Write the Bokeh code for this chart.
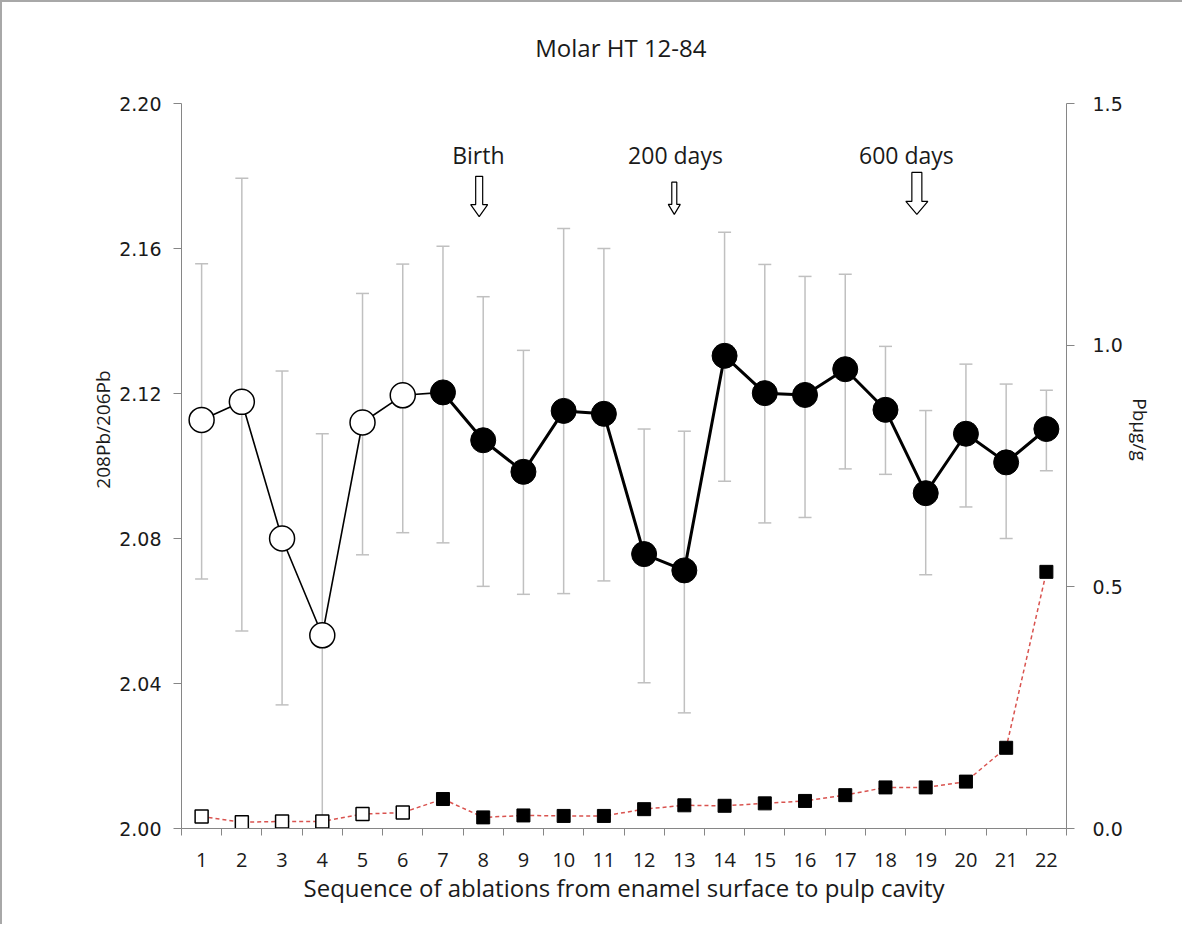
from bokeh.plotting import figure
from bokeh.models import Range1d, LinearAxis, FixedTicker, NumeralTickFormatter, Title
from bokeh.core.properties import value
from bokeh.embed import file_html
from bokeh.resources import INLINE

# ---------------- data ----------------
ablation = list(range(1, 23))
ratio = [2.1127, 2.1177, 2.0800, 2.0533, 2.1120, 2.1195, 2.1203, 2.1071, 2.0984, 2.1152, 2.1144,
         2.0757, 2.0712, 2.1304, 2.1201, 2.1196, 2.1267, 2.1155, 2.0925, 2.1089, 2.1010, 2.1102]
ratio_hi = [2.1558, 2.1794, 2.1262, 2.1089, 2.1476, 2.1557, 2.1606, 2.1467, 2.1319, 2.1655, 2.1600,
            2.1102, 2.1096, 2.1645, 2.1556, 2.1523, 2.1529, 2.1330, 2.1153, 2.1281, 2.1226, 2.1209]
ratio_lo = [2.0688, 2.0545, 2.0341, 1.9977, 2.0755, 2.0816, 2.0788, 2.0668, 2.0646, 2.0648, 2.0683,
            2.0402, 2.0319, 2.0958, 2.0843, 2.0858, 2.0992, 2.0977, 2.0700, 2.0887, 2.0800, 2.0987]
pb_conc = [0.025, 0.013, 0.0145, 0.0145, 0.030, 0.033, 0.061, 0.023, 0.027, 0.026, 0.026,
           0.040, 0.048, 0.047, 0.052, 0.057, 0.069, 0.085, 0.085, 0.097, 0.167, 0.531]
n_open = 6  # first ablations drawn with hollow markers

events = ["Birth", "200 days", "600 days"]
event_x = [7.90, 12.75, 18.78]
event_text_x = [7.88, 12.78, 18.52]
event_top = [2.1799, 2.1783, 2.1810]
event_tip = [2.1688, 2.1694, 2.1694]
event_text_y = 2.1857

left_ticks = [2.00, 2.04, 2.08, 2.12, 2.16, 2.20]
right_ticks = [0.0, 0.5, 1.0, 1.5]
title_text = "Molar  HT 12-84"
x_title = "Sequence of ablations from enamel surface to pulp cavity"
y_title = "208Pb/206Pb"
y2_title = "Pb\u00b5g/g"

# ---------------- styles ----------------
CAL = "Open Sans"
VER = "DejaVu Sans"
AXIS_COL = "#868686"
TXT = "#1a1a1a"
ERR_COL = "#c0c0c0"
RED = "#d9534f"
arrow_shaft_px = [7, 5, 10]
arrow_head_px = [17, 12, 22]
arrow_headh_px = [12, 10, 13]

W, H = 1182, 924
ML, MR, MT, MB = 179, 118, 28, 98
HEAD_PX = 73          # free space inside the frame above the axes' top value
TITLE_PX = 56         # title centre above the axes' top value
x_lo, x_hi = 0.5, len(ablation) + 0.5
y_lo, y_hi = left_ticks[0], left_ticks[-1]
r_lo, r_hi = right_ticks[0], right_ticks[-1]

frame_w = W - ML - MR
frame_h = H - MT - MB
axis_h = frame_h - HEAD_PX
uy = (y_hi - y_lo) / axis_h
ux = (x_hi - x_lo) / frame_w
ry = (r_hi - r_lo) / axis_h
label_shift = HEAD_PX / 2   # centre side titles on the 2.00-2.20 span

p = figure(width=W, height=H, output_backend="svg", toolbar_location=None,
           x_range=Range1d(x_lo, x_hi), y_range=Range1d(y_lo, y_hi + HEAD_PX * uy),
           min_border_left=ML, min_border_right=MR, min_border_top=MT, min_border_bottom=MB,
           background_fill_color="white", border_fill_color="white", title_location=None)
p.outline_line_color = None
p.grid.visible = False
p.styles = {"border-top": "2px solid #a8a8a8", "border-left": "2px solid #a8a8a8"}
p.extra_y_ranges = {"pb": Range1d(r_lo, r_hi + HEAD_PX * ry)}

# x axis
xa = p.xaxis[0]
xa.ticker = FixedTicker(ticks=ablation, minor_ticks=[a - 0.5 for a in ablation] + [ablation[-1] + 0.5])
xa.major_tick_out = 0
xa.major_tick_in = 0
xa.minor_tick_out = 7
xa.minor_tick_in = 0
xa.minor_tick_line_color = AXIS_COL
xa.axis_line_color = AXIS_COL
xa.major_label_text_font = CAL
xa.major_label_text_font_size = "20px"
xa.major_label_text_color = TXT
xa.major_label_standoff = 17
xa.axis_label = x_title
xa.axis_label_text_font = CAL
xa.axis_label_text_font_size = "24px"
xa.axis_label_text_font_style = "normal"
xa.axis_label_text_color = TXT
xa.axis_label_standoff = 1

# left axis
ya = p.yaxis[0]
ya.ticker = FixedTicker(ticks=left_ticks, minor_ticks=[])
ya.formatter = NumeralTickFormatter(format="0.00")
ya.bounds = (y_lo, y_hi)
ya.major_tick_out = 8
ya.major_tick_in = 0
ya.major_tick_line_color = AXIS_COL
ya.axis_line_color = AXIS_COL
ya.major_label_text_font = VER
ya.major_label_text_font_size = "19px"
ya.major_label_text_color = TXT
ya.major_label_standoff = 12

# right axis
ra = LinearAxis(y_range_name="pb", ticker=FixedTicker(ticks=right_ticks, minor_ticks=[]),
                formatter=NumeralTickFormatter(format="0.0"), bounds=(r_lo, r_hi))
ra.major_tick_out = 8
ra.major_tick_in = 0
ra.major_tick_line_color = AXIS_COL
ra.axis_line_color = AXIS_COL
ra.major_label_text_font = VER
ra.major_label_text_font_size = "19px"
ra.major_label_text_color = TXT
ra.major_label_standoff = 18
p.add_layout(ra, "right")

# side titles (axis names), centred on the scaled span
p.add_layout(Title(text=y_title, align="center", offset=-label_shift, standoff=2,
                   text_font=CAL, text_font_size="19px", text_font_style="normal",
                   text_color=TXT), "left")
p.add_layout(Title(text=y2_title, align="center", offset=label_shift, standoff=2,
                   text_font=CAL, text_font_size="19px", text_font_style="normal",
                   text_color=TXT), "right")

# error bars
p.segment(x0=ablation, y0=ratio_lo, x1=ablation, y1=ratio_hi, line_color=ERR_COL, line_width=1.5)
p.scatter(x=ablation, y=ratio_hi, marker="dash", size=13, line_color=ERR_COL, line_width=1.5)
p.scatter(x=ablation, y=ratio_lo, marker="dash", size=13, line_color=ERR_COL, line_width=1.5)

# Pb concentration (right axis)
p.line(x=ablation, y=pb_conc, y_range_name="pb", line_color=RED, line_width=1.5, line_dash="4 3")
p.scatter(x=ablation[:n_open], y=pb_conc[:n_open], y_range_name="pb", marker="square", size=13,
          fill_color="white", line_color="black", line_width=1.5)
p.scatter(x=ablation[n_open:], y=pb_conc[n_open:], y_range_name="pb", marker="square", size=13,
          fill_color="black", line_color="black", line_width=1)

# isotope ratio
p.line(x=ablation[:n_open + 1], y=ratio[:n_open + 1], line_color="black", line_width=1.6)
p.line(x=ablation[n_open:], y=ratio[n_open:], line_color="black", line_width=3)
p.scatter(x=ablation[:n_open], y=ratio[:n_open], marker="circle", size=25,
          fill_color="white", line_color="black", line_width=1.5)
p.scatter(x=ablation[n_open:], y=ratio[n_open:], marker="circle", size=25,
          fill_color="black", line_color="black", line_width=1)

# event arrows
xs, ys = [], []
for cx, top, tip, sw, hw, hh in zip(event_x, event_top, event_tip, arrow_shaft_px, arrow_head_px, arrow_headh_px):
    s = sw / 2 * ux
    h = hw / 2 * ux
    neck = tip + hh * uy
    xs.append([cx - s, cx + s, cx + s, cx + h, cx, cx - h, cx - s])
    ys.append([top, top, neck, neck, tip, neck, neck])
p.patches(xs=xs, ys=ys, fill_color="white", line_color="black", line_width=1.2)
p.text(x=event_text_x, y=[event_text_y] * len(events), text=events, text_font=value(CAL),
       text_font_size="23px", text_align="center", text_baseline="middle", text_color=TXT)

# chart title
p.text(x=[(x_lo + x_hi) / 2], y=[y_hi + TITLE_PX * uy], text=[title_text], text_font=value(CAL),
       text_font_size="24px", text_align="center", text_baseline="middle", text_color=TXT)

open("out.html", "w").write(file_html(p, INLINE))
